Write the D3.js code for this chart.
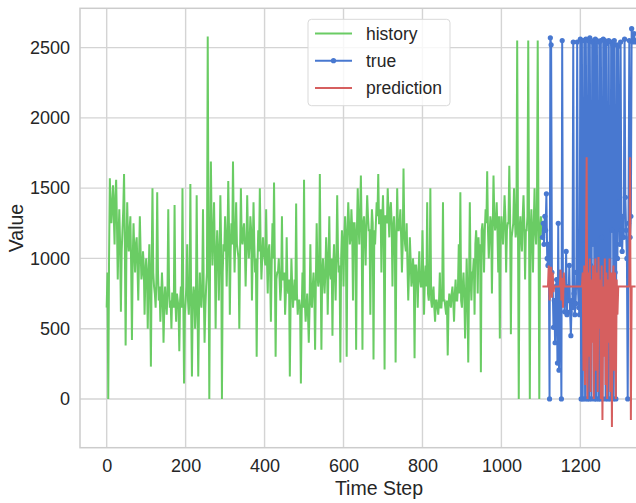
<!DOCTYPE html>
<html>
<head>
<meta charset="utf-8">
<script src="https://cdn.jsdelivr.net/npm/d3@7"></script>
<style>
  body { margin: 0; background: #fff; }
  svg { display: block; font-family: "Liberation Sans", Arial, sans-serif; }
  .grid line { stroke: #d4d4d4; stroke-width: 1.4; }
  .tick text { fill: #262626; font-size: 18px; }
  .lineHistory { fill: none; stroke: #6acc64; stroke-width: 2; }
  .lineTrue { fill: none; stroke: #4878d0; stroke-width: 2; }
  .linePred { fill: none; stroke: #d65f5f; stroke-width: 2; }
  .dotTrue { fill: #4878d0; }
  .axisLabel { fill: #262626; font-size: 19.5px; }
  .legendText { fill: #262626; font-size: 17.5px; }
</style>
</head>
<body>
<svg id="chart" width="636" height="503"></svg>
<script>
// time steps: first step + spacing for each series
const historyStart = 0, historyStep = 2;
const trueStart = 1104, trueStep = 2;
const predStart = 1104, predStep = 2;

// history values (one every 2 steps)
const historyValues = [
  650, 900, 0, 1000, 1570, 1350, 1250, 1400, 1520, 1300, 1100, 1450, 1560, 1250, 850, 1150, 1350, 1100, 620, 1050,
  1200, 1350, 1600, 1100, 380, 1050, 1400, 1150, 1050, 1200, 1300, 950, 420, 1000, 1250, 1050, 900, 1100, 1150, 950,
  700, 1000, 1300, 1050, 850, 900, 1050, 950, 600, 850, 1000, 900, 500, 850, 1100, 800, 230, 950, 1500, 900,
  800, 750, 650, 850, 1470, 900, 700, 800, 550, 700, 900, 750, 400, 650, 800, 700, 600, 750, 1350, 800,
  650, 700, 500, 750, 750, 650, 1380, 700, 550, 750, 700, 650, 340, 700, 800, 650, 1500, 750, 110, 600,
  700, 800, 1100, 700, 600, 750, 1530, 650, 160, 700, 800, 750, 500, 650, 1450, 700, 160, 650, 900, 700,
  650, 800, 1350, 750, 400, 650, 800, 900, 2580, 1100, 0, 1000, 1690, 1200, 950, 1150, 1400, 1050, 500, 1000,
  1200, 1050, 700, 1000, 1450, 1100, 0, 900, 1100, 1050, 1300, 1150, 800, 1100, 1550, 1200, 600, 1050, 1250, 1100,
  1690, 1200, 900, 1150, 1400, 1100, 1050, 1000, 500, 1050, 1500, 1150, 1100, 1200, 1250, 1100, 800, 1050, 1450, 1150,
  1000, 1100, 1300, 1200, 700, 1050, 1400, 1100, 900, 1000, 300, 950, 1200, 1050, 1500, 1100, 850, 1000, 1150, 1050,
  1000, 950, 1350, 1000, 750, 1050, 1100, 900, 550, 950, 1250, 1000, 1540, 950, 300, 850, 900, 900, 1000, 850,
  700, 800, 1300, 850, 850, 900, 600, 750, 1150, 800, 750, 850, 160, 700, 1000, 800, 650, 750, 850, 700,
  1390, 750, 600, 700, 700, 650, 110, 600, 900, 650, 1560, 700, 550, 650, 750, 600, 400, 650, 1100, 700,
  650, 800, 900, 750, 350, 850, 1250, 900, 800, 850, 1600, 950, 350, 900, 1000, 850, 750, 900, 1150, 1000,
  600, 950, 1300, 900, 850, 1000, 450, 950, 1100, 900, 700, 1000, 1450, 1050, 900, 950, 260, 1000, 1200, 1100,
  800, 1150, 1300, 1100, 300, 1200, 1400, 1250, 1100, 1150, 1350, 1200, 700, 1250, 1250, 1150, 350, 1200, 1500, 1250,
  1100, 1300, 1590, 1200, 350, 1250, 1300, 1150, 950, 1250, 1450, 1300, 1200, 1200, 600, 1150, 1350, 1250, 280, 1200,
  1100, 1250, 1400, 1300, 1600, 1250, 1250, 1350, 900, 1250, 1450, 1200, 210, 1300, 1300, 1250, 1500, 1300, 1150, 1350,
  1400, 1250, 800, 1200, 1300, 1150, 260, 1100, 1500, 1200, 1200, 1250, 1350, 1150, 900, 1100, 1640, 1200, 1100, 1050,
  1250, 950, 700, 900, 1150, 1000, 800, 850, 1000, 900, 290, 950, 950, 850, 650, 900, 1050, 850, 800, 800,
  1200, 900, 600, 850, 950, 800, 1400, 750, 700, 800, 1500, 700, 650, 750, 800, 650, 550, 700, 700, 650,
  600, 700, 900, 650, 650, 750, 1400, 700, 700, 650, 600, 700, 310, 650, 750, 700, 650, 750, 800, 700,
  550, 750, 850, 700, 700, 800, 1100, 750, 1470, 700, 650, 800, 900, 750, 430, 700, 1000, 750, 260, 800,
  1400, 850, 700, 900, 900, 1000, 600, 1100, 1200, 1050, 750, 1150, 1000, 1100, 190, 1200, 1250, 1150, 900, 1200,
  1350, 1250, 1620, 1200, 1000, 1150, 1300, 1250, 750, 1200, 1590, 1300, 1200, 1250, 1400, 1200, 900, 1300, 430, 1150,
  1300, 1200, 1100, 1250, 1450, 1300, 900, 1200, 1250, 1250, 1660, 1300, 460, 1150, 1200, 1250, 1500, 1300, 1150, 1200,
  2550, 1250, 0, 1200, 1300, 1150, 1050, 1300, 1450, 1250, 850, 1200, 1200, 1300, 2550, 1250, 0, 1200, 1350, 1150,
  900, 1250, 1500, 1200, 1100, 1300, 2550, 1250, 0, 1200, 1300, 1250, 1150
];

// true values (every 2 steps)
const trueValues = [
  1150, 1250, 1100, 1300, 1200, 1460, 1000, 950, 1100, 0,
  2570, 2520, 900, 800, 510, 700, 400, 800, 850, 255,
  1250, 205, 900, 750, 0, 2550, 700, 850, 620, 750,
  1050, 600, 800, 700, 950, 620, 450, 700, 650, 2540,
  750, 600, 680, 900, 2540, 800, 650, 600,
  2560, 0, 2550, 0, 1100, 2550, 0, 2560, 1200, 0,
  2550, 0, 2570, 950, 0, 2540, 1100, 2550, 0, 2560,
  0, 2550, 1000, 0, 2540, 0, 2550, 1150, 0, 2560,
  700, 2550, 0, 2530, 1000, 0, 2550, 800, 0, 2540,
  1200, 2520, 0, 2550, 900, 0, 2520, 1000, 2510, 1400,
  1100, 2540, 1200, 1050, 1300, 1150, 2560, 1435, 1200, 1000,
  0, 1250, 2550, 1150, 1300, 2635, 2540, 2550, 2600, 2550,
  2540
];

// prediction values (every 2 steps)
const predValues = [
  800, 800, 800, 800, 800, 800, 800, 800, 950, 700,
  880, 940, 720, 900, 760, 800, 800, 800, 800, 800,
  800, 800, 800, 920, 700, 860, 650, 900, 800, 800,
  800, 800, 800, 800, 800, 800, 800, 800, 800, 800,
  800, 800, 800, 800, 800, 800, 800, 800, 800, 800,
  800, 900, 200, 950, 100, 800, 1720, 0, 900, 300,
  1000, 50, 850, 400, 950, 0, 700, 1000, 200, 900,
  50, 1010, 500, 850, 0, 950, -150, 800, 300, 1000,
  100, 900, 0, 850, 400, 1000, 50, 900, -200, 800,
  950, 200, 900, 0, 850, 600, 800, 800, 800, 800,
  800, 800, 800, 800, 800, 800, 800, 800, 800, 800,
  800, 1720, -150, 800, 800, 800, 800, 800, 800
];

const xTicks = [0, 200, 400, 600, 800, 1000, 1200];
const yTicks = [0, 500, 1000, 1500, 2000, 2500];

function toPoints(values, start, step) {
  return values.map(function (v, i) {
    return { t: start + i * step, v: v };
  });
}
var historyData = toPoints(historyValues, historyStart, historyStep);
var trueData = toPoints(trueValues, trueStart, trueStep);
var predData = toPoints(predValues, predStart, predStep);

// plot box
const plotLeft = 80, plotTop = 8.3, plotRight = 680, plotBottom = 447.7;

var xScale = d3.scaleLinear().domain([-67.6, 1341]).range([plotLeft, 636]);
var yScale = d3.scaleLinear().domain([-347, 2780]).range([plotBottom, plotTop]);

var svg = d3.select("#chart");

svg.append("defs").append("clipPath").attr("id", "plotClip")
  .append("rect")
  .attr("x", plotLeft).attr("y", plotTop)
  .attr("width", plotRight - plotLeft).attr("height", plotBottom - plotTop);

// grid
svg.append("g").attr("class", "grid")
  .selectAll("line").data(xTicks).enter().append("line")
  .attr("x1", d => xScale(d)).attr("x2", d => xScale(d))
  .attr("y1", plotTop).attr("y2", plotBottom);
svg.append("g").attr("class", "grid")
  .selectAll("line").data(yTicks).enter().append("line")
  .attr("x1", plotLeft).attr("x2", plotRight)
  .attr("y1", d => yScale(d)).attr("y2", d => yScale(d));

// axes (text only, whitegrid has no ticks)
var xAxis = svg.append("g")
  .attr("transform", "translate(0," + plotBottom + ")")
  .call(d3.axisBottom(xScale).tickValues(xTicks).tickSize(0).tickPadding(12).tickFormat(d3.format("d")));
xAxis.select(".domain").remove();

var yAxis = svg.append("g")
  .attr("transform", "translate(" + plotLeft + ",0)")
  .call(d3.axisLeft(yScale).tickValues(yTicks).tickSize(0).tickPadding(10).tickFormat(d3.format("d")));
yAxis.select(".domain").remove();
xAxis.attr("font-family", null).attr("font-size", null);
yAxis.attr("font-family", null).attr("font-size", null);

// lines
var line = d3.line()
  .x(d => xScale(d.t))
  .y(d => yScale(d.v));

var plot = svg.append("g").attr("clip-path", "url(#plotClip)");
plot.append("path").datum(historyData).attr("class", "lineHistory").attr("d", line);
plot.append("path").datum(trueData).attr("class", "lineTrue").attr("d", line);
plot.selectAll("circle.dotTrue").data(trueData).enter().append("circle")
  .attr("class", "dotTrue")
  .attr("cx", d => xScale(d.t)).attr("cy", d => yScale(d.v)).attr("r", 2.6);
plot.append("path").datum(predData).attr("class", "linePred").attr("d", line);

// frame
svg.append("rect")
  .attr("x", plotLeft).attr("y", plotTop)
  .attr("width", plotRight - plotLeft).attr("height", plotBottom - plotTop)
  .attr("fill", "none").attr("stroke", "#cccccc").attr("stroke-width", 1.5);

// axis labels
svg.append("text").attr("class", "axisLabel")
  .attr("x", 379).attr("y", 495).attr("text-anchor", "middle")
  .text("Time Step");
svg.append("text").attr("class", "axisLabel")
  .attr("transform", "translate(23,228) rotate(-90)")
  .attr("text-anchor", "middle")
  .text("Value");

// legend
var legendItems = [
  { name: "history", cls: "lineHistory", dot: false },
  { name: "true", cls: "lineTrue", dot: true },
  { name: "prediction", cls: "linePred", dot: false }
];
var legend = svg.append("g");
legend.append("rect")
  .attr("x", 308).attr("y", 19.3).attr("width", 142).attr("height", 86.4)
  .attr("rx", 3.5).attr("fill", "#fff").attr("fill-opacity", 0.8)
  .attr("stroke", "#d9d9d9").attr("stroke-width", 1);
legendItems.forEach(function (d, i) {
  var y = 33.5 + i * 27.2;
  legend.append("line").attr("class", d.cls)
    .attr("x1", 315).attr("x2", 352).attr("y1", y).attr("y2", y);
  if (d.dot) {
    legend.append("circle").attr("class", "dotTrue")
      .attr("cx", 333.5).attr("cy", y).attr("r", 2.6);
  }
  legend.append("text").attr("class", "legendText")
    .attr("x", 366).attr("y", y).attr("dy", "0.35em")
    .text(d.name);
});
</script>
</body>
</html>
